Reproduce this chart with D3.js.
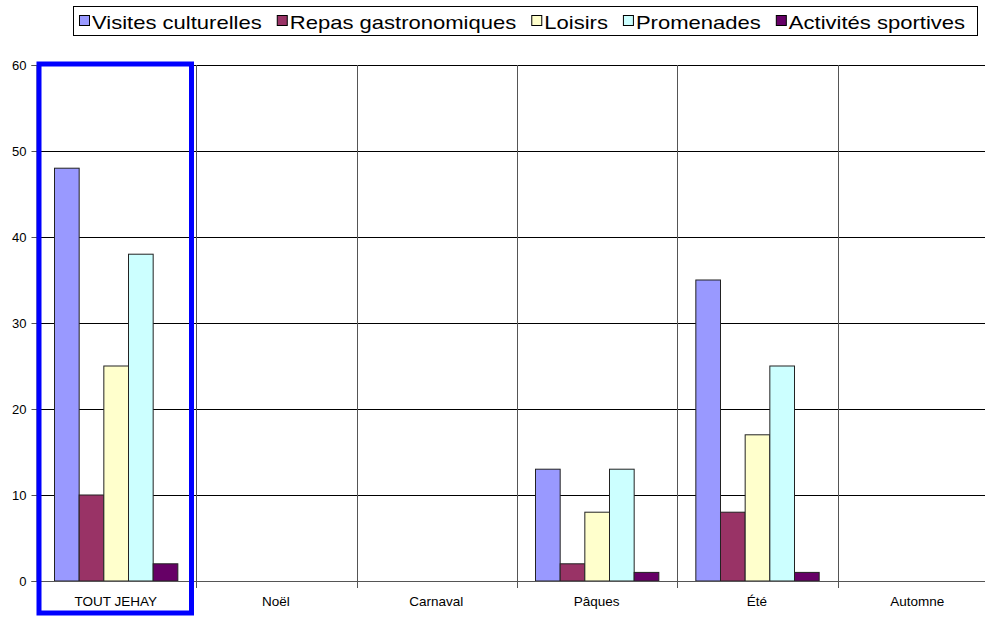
<!DOCTYPE html>
<html><head><meta charset="utf-8">
<script src="https://cdn.jsdelivr.net/npm/d3@7"></script>
<style>body{margin:0;background:#fff;} svg{display:block;font-family:"Liberation Sans",Arial,sans-serif;}</style>
</head><body>
<svg id="c" width="985" height="617"></svg>
<script>
const categories = ["TOUT JEHAY","Noël","Carnaval","Pâques","Été","Automne"];
const seriesNames = ["Visites culturelles","Repas gastronomiques","Loisirs","Promenades","Activités sportives"];
const visites = [48,0,0,13,35,0];
const repas = [10,0,0,2,8,0];
const loisirs = [25,0,0,8,17,0];
const promenades = [38,0,0,13,25,0];
const sportives = [2,0,0,1,1,0];
const yTicks = [0,10,20,30,40,50,60];
const colors = ["#9999FF","#993366","#FFFFCC","#CCFFFF","#660066"];

const seriesValues = [visites,repas,loisirs,promenades,sportives];
const svg = d3.select("#c");
const L = 36, R = 998, T = 65, B = 581;
const x = d3.scaleBand().domain(categories).range([L,R]);
const y = d3.scaleLinear().domain([0,60]).range([B,T]);
const inner = d3.scaleBand().domain(d3.range(seriesNames.length)).range([0,x.bandwidth()]).paddingOuter(0.75).paddingInner(0);

// horizontal grid
svg.append("g").selectAll("line").data(yTicks.filter(d=>d>0)).join("line")
  .attr("x1",L).attr("x2",R).attr("y1",d=>Math.round(y(d))+0.5).attr("y2",d=>Math.round(y(d))+0.5)
  .attr("stroke","#000").attr("stroke-width",1);
// vertical category separators
svg.append("g").selectAll("line").data(categories.slice(1)).join("line")
  .attr("x1",d=>Math.round(x(d))+0.5).attr("x2",d=>Math.round(x(d))+0.5)
  .attr("y1",T).attr("y2",B+7).attr("stroke","#555").attr("stroke-width",1);

// bars
const rows = categories.map((c,i)=>({c, vals: seriesValues.map((s,k)=>({k, v:s[i]}))}));
const g = svg.append("g").selectAll("g").data(rows).join("g").attr("transform",d=>`translate(${x(d.c)},0)`);
g.selectAll("rect").data(d=>d.vals.filter(o=>o.v>0)).join("rect")
  .attr("x",d=>inner(d.k)).attr("width",inner.bandwidth())
  .attr("y",d=>y(d.v)).attr("height",d=>y(0)-y(d.v))
  .attr("fill",d=>colors[d.k]).attr("stroke","#222").attr("stroke-width",1);

// axes
const yAxis = d3.axisLeft(y).tickValues(yTicks).tickSize(5).tickPadding(5);
const ya = svg.append("g").attr("transform",`translate(${L+0.5},0)`).call(yAxis);
ya.select(".domain").attr("stroke","#555");
ya.selectAll(".tick line").attr("stroke","#555");
ya.selectAll("text").attr("font-size",13).attr("fill","#000").style("font-family","Liberation Sans, Arial");

svg.append("line").attr("x1",L).attr("x2",R).attr("y1",B+0.5).attr("y2",B+0.5).attr("stroke","#555");
svg.append("g").selectAll("text").data(categories).join("text")
  .attr("x",d=>x(d)+x.bandwidth()/2-0.5).attr("y",B+25).attr("text-anchor","middle")
  .attr("font-size",13.5).text(d=>d);

// highlight box
svg.append("rect").attr("x",39).attr("y",64).attr("width",152.5).attr("height",549)
  .attr("fill","none").attr("stroke","#0000FF").attr("stroke-width",5);

// legend
const lg = svg.append("g");
lg.append("rect").attr("x",73.5).attr("y",6.5).attr("width",904).attr("height",29).attr("fill","#fff").attr("stroke","#000");
let cx = 79;
const sx = 1.16;
seriesNames.forEach((n,k)=>{
  lg.append("rect").attr("x",cx+0.5).attr("y",15.5).attr("width",10).attr("height",10).attr("fill",colors[k]).attr("stroke","#000");
  const t = lg.append("text").attr("transform",`translate(${cx+13},28.5) scale(${sx},1)`).attr("font-size",19).text(n);
  const w = t.node().getComputedTextLength()*sx;
  cx += 13 + w + 15;
});
</script>
</body></html>
